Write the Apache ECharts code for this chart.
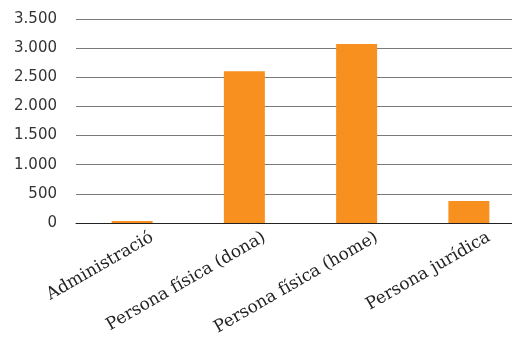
<!DOCTYPE html>
<html>
<head>
<meta charset="utf-8">
<script src="https://cdn.jsdelivr.net/npm/echarts@6/dist/echarts.min.js"></script>
<style>
  html, body { margin: 0; padding: 0; background: #fff; overflow: hidden; width: 512px; height: 338px; }
  #chart { width: 550px; height: 338px; }
</style>
</head>
<body>
<div id="chart"></div>
<script>
const categories = ['Administració', 'Persona física (dona)', 'Persona física (home)', 'Persona jurídica'];
const values = [35, 2605, 3070, 378];
const yTicks = { min: 0, max: 3500, interval: 500 };

// the plot runs past the right edge of the picture, hence the wider div
const chart = echarts.init(document.getElementById('chart'));
chart.setOption({
  animation: false,
  grid: [
    { left: 76, right: 25, top: 19, bottom: 115 },
    // shifted copy used only for the slanted category labels
    { left: 96, right: 5, top: 19, bottom: 115 }
  ],
  xAxis: [{
    type: 'category',
    gridIndex: 0,
    data: categories,
    axisTick: { show: false },
    axisLine: { lineStyle: { color: '#222', width: 1 } },
    axisLabel: { show: false }
  }, {
    type: 'category',
    gridIndex: 1,
    data: categories,
    axisTick: { show: false },
    axisLine: { show: false },
    axisLabel: {
      rotate: 30,
      interval: 0,
      margin: 21,
      fontFamily: 'DejaVu Serif',
      fontSize: 17,
      color: '#222'
    }
  }],
  yAxis: [{
    type: 'value',
    gridIndex: 0,
    min: yTicks.min,
    max: yTicks.max,
    interval: yTicks.interval,
    axisLine: { show: false },
    axisTick: { show: false },
    splitLine: { lineStyle: { color: '#7a7a7a', width: 1 } },
    axisLabel: {
      margin: 19,
      fontFamily: 'DejaVu Sans',
      fontSize: 15,
      color: '#333',
      formatter: v => v.toLocaleString('de-DE')
    }
  }, {
    type: 'value',
    gridIndex: 1,
    min: yTicks.min,
    max: yTicks.max,
    show: false
  }],
  series: [{
    type: 'bar',
    xAxisIndex: 0,
    yAxisIndex: 0,
    data: values,
    barWidth: 41,
    itemStyle: { color: '#F7901E' }
  }]
});
</script>
</body>
</html>
